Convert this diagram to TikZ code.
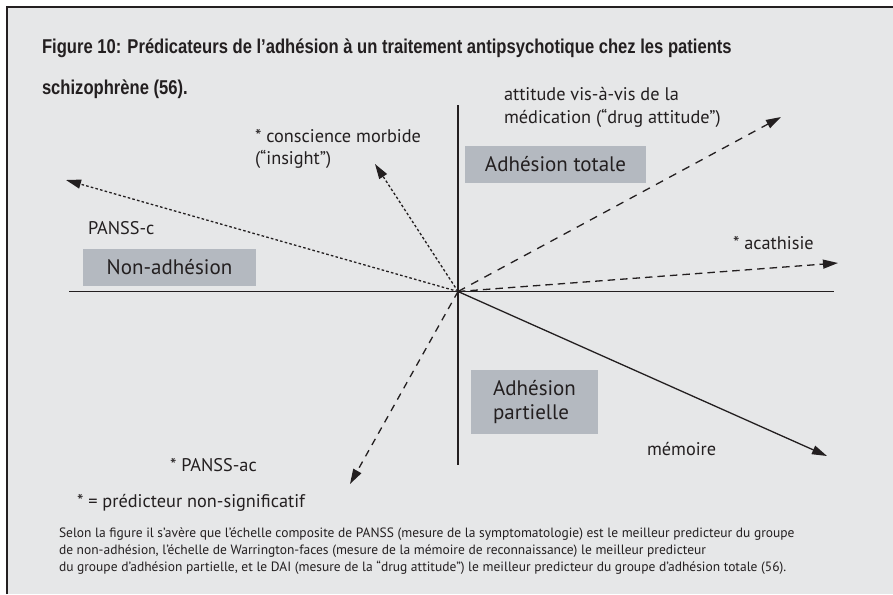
\documentclass[tikz,border=0pt]{standalone}
\usepackage{fontspec}
\setmainfont{PT Sans}
\newfontfamily\titlefont[FakeStretch=0.83]{Liberation Sans}
\usetikzlibrary{arrows.meta}
\definecolor{bg}{HTML}{E6E7E8}
\definecolor{boxc}{HTML}{B4B9C0}
\definecolor{ink}{HTML}{231F20}
\begin{document}
\begin{tikzpicture}[x=1pt,y=-1pt,
  every node/.style={inner sep=0pt, outer sep=0pt, text=ink},
  ttl/.style={anchor=base west, font=\titlefont\bfseries\fontsize{20}{24}\selectfont},
  lbl/.style={anchor=base west, font=\fontsize{18.3}{22}\selectfont},
  captxt/.style={anchor=base west, font=\fontsize{13.5}{15}\selectfont},
  grp/.style={fill=boxc, font=\fontsize{21}{25}\selectfont},
  axis/.style={line width=1.5pt, draw=ink},
  arr/.style={line width=1.3pt, draw=ink, -{Triangle[length=15pt,width=9pt]}},
  dotty/.style={arr, dash pattern=on 2.6pt off 2.2pt},
  dashy/.style={arr, dash pattern=on 8pt off 7pt}]
\useasboundingbox (0,0) rectangle (893,594);
\fill[bg] (7,7) rectangle (893,594);
\draw[line width=2pt, ink] (7,594) -- (7,7) -- (893,7);

% title
\node[ttl] (t1) at (42,54) {Figure 10: Prédicateurs de l’adhésion à un traitement antipsychotique chez les patients};
\node[ttl] (t2) at (42,94) {schizophrène (56).};

% group boxes
\node[grp, minimum width=173pt, minimum height=37pt] (non) at (169.5,267.5) {Non-adhésion};
\node[grp, minimum width=181pt, minimum height=37pt] (tot) at (555.5,164.5) {Adhésion totale};
\node[grp, minimum width=127pt, minimum height=64pt, align=left] (par) at (534.5,402) {Adhésion\\[-1pt]partielle};

% axes
\coordinate (O) at (458,291.5);
\coordinate (xl) at (69,291.5);
\coordinate (xr) at (834,291.5);
\coordinate (yt) at (458,105);
\coordinate (yb) at (458,465);
\draw[axis] (xl) -- (xr);
\draw[axis] (yt) -- (yb);

% arrow tips
\coordinate (pc) at (66,180);
\coordinate (ins) at (375,164);
\coordinate (drug) at (781,117);
\coordinate (aca) at (838,263);
\coordinate (mem) at (827,456);
\coordinate (pac) at (350,484);

\draw[dotty] (O) -- (pc);
\draw[dotty] (O) -- (ins);
\draw[dashy] (O) -- (drug);
\draw[dashy, dash pattern=on 7.5pt off 5pt] (O) -- (aca);
\draw[arr] (O) -- (mem);
\draw[dashy, dash pattern=on 7pt off 6pt] (O) -- (pac);

% labels
\node[lbl] (ld1) at (504,100) {attitude vis-à-vis de la};
\node[lbl] (ld2) at (504,123) {médication (“drug attitude”)};
\node[lbl] (li1) at (255,142.5) {* conscience morbide};
\node[lbl] (li2) at (255,164.5) {(“insight”)};
\node[lbl] (lpc) at (88,234) {PANSS-c};
\node[lbl] (lac) at (733,249.5) {* acathisie};
\node[lbl] (lme) at (647,455.5) {mémoire};
\node[lbl] (lpa) at (170,471) {* PANSS-ac};
\node[lbl] (lns) at (77,507) {* = prédicteur non-significatif};

% caption
\node[captxt] (c1) at (59,537.5) {Selon la figure il s’avère que l’échelle composite de PANSS (mesure de la symptomatologie) est le meilleur predicteur du groupe};
\node[captxt] (c2) at (59,554.5) {de non-adhésion, l’échelle de Warrington-faces (mesure de la mémoire de reconnaissance) le meilleur predicteur};
\node[captxt] (c3) at (59,571.5) {du groupe d’adhésion partielle, et le DAI (mesure de la “drug attitude”) le meilleur predicteur du groupe d’adhésion totale (56).};
\end{tikzpicture}
\end{document}
